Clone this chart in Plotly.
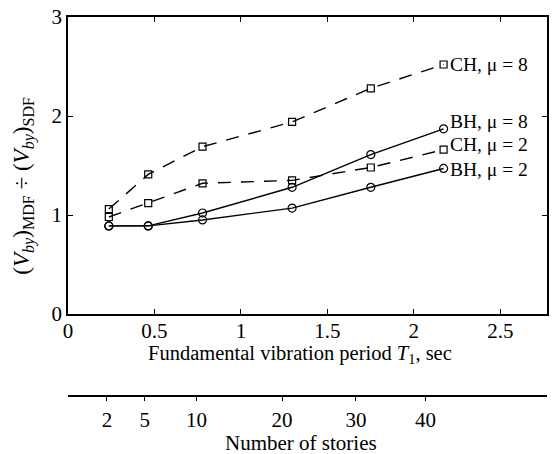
import plotly.graph_objects as go

# Fundamental periods of the frames (sec)
period = [0.236, 0.464, 0.778, 1.296, 1.751, 2.172]

# Base-shear ratio (V_by)MDF / (V_by)SDF for each frame family
ch_mu8 = [1.06, 1.41, 1.69, 1.94, 2.28, 2.52]
ch_mu2 = [0.98, 1.12, 1.32, 1.35, 1.48, 1.66]
bh_mu8 = [0.89, 0.89, 1.02, 1.28, 1.61, 1.87]
bh_mu2 = [0.89, 0.89, 0.95, 1.07, 1.28, 1.47]

series_names = ["CH, μ = 8", "BH, μ = 8", "CH, μ = 2", "BH, μ = 2"]

# Secondary scale: number of stories and where each sits on the period axis
stories = [2, 5, 10, 20, 30, 40]
story_period = [0.225, 0.444, 0.743, 1.238, 1.665, 2.068]

x_ticks = [0, 0.5, 1, 1.5, 2, 2.5]
x_ticktext = ["0", "0.5", "1", "1.5", "2", "2.5"]
y_ticks = [0, 1, 2, 3]

FONT = "Times New Roman, Liberation Serif, serif"
W, H = 553, 454
ML, MR, MT, MB = 68, 4, 17, 30
plot_w = W - ML - MR
plot_h = H - MT - MB
main_bottom = (H - MB - 314) / plot_h
story_axis_pos = (H - MB - 396) / plot_h

fig = go.Figure()

styles = [
    (ch_mu8, "dash", "square-open"),
    (bh_mu8, "solid", "circle-open"),
    (ch_mu2, "dash", "square-open"),
    (bh_mu2, "solid", "circle-open"),
]
for (vals, dash, sym), name in zip(styles, series_names):
    fig.add_trace(go.Scatter(
        x=period, y=vals, mode="lines+markers", name=name,
        line=dict(color="black", width=1.4, dash="13px,10px" if dash == "dash" else "solid"),
        marker=dict(symbol=sym, size=7 if sym.startswith("square") else 8,
                    color="black", line=dict(width=1.2, color="black")),
        showlegend=False,
    ))

# Invisible trace that carries the stories scale
fig.add_trace(go.Scatter(x=story_period, y=[None] * len(stories), xaxis="x2",
                         yaxis="y", mode="markers", showlegend=False,
                         hoverinfo="skip"))

# Series labels at the right end of each curve
label_shift = [0, 7, 5, -1]
for (vals, _, _), name, ys in zip(styles, series_names, label_shift):
    fig.add_annotation(x=period[-1], y=vals[-1], text=name, showarrow=False,
                       xanchor="left", yanchor="middle", xshift=5, yshift=ys,
                       borderpad=0,
                       font=dict(family=FONT, size=19.5, color="black"))

# Axis titles
fig.add_annotation(
    x=(301 - ML) / plot_w, y=(H - MB - 350) / plot_h,
    xref="paper", yref="paper", showarrow=False, yshift=-19,
    text="Fundamental vibration period <i>T</i><sub>1</sub>, sec",
    font=dict(family=FONT, size=20.5, color="black"))
fig.add_annotation(
    x=(302 - ML) / plot_w, y=(H - MB - 442) / plot_h,
    xref="paper", yref="paper", showarrow=False, yshift=-15,
    text="Number of stories",
    font=dict(family=FONT, size=21, color="black"))
fig.add_annotation(
    x=(20 - ML) / plot_w, y=(H - MB - 186) / plot_h,
    xref="paper", yref="paper", showarrow=False, textangle=-90, xshift=-14,
    text="(<i>V</i><sub><i>by</i></sub>)<sub>MDF</sub> ÷ (<i>V</i><sub><i>by</i></sub>)<sub>SDF</sub>",
    font=dict(family=FONT, size=23, color="black"))

x_range = [0, 2.77]
fig.update_layout(
    width=W, height=H,
    margin=dict(l=ML, r=MR, t=MT, b=MB),
    paper_bgcolor="white", plot_bgcolor="white",
    font=dict(family=FONT, size=21, color="black"),
    xaxis=dict(range=x_range, domain=[0, 1], anchor="y",
               tickvals=x_ticks, ticktext=x_ticktext,
               showline=True, linecolor="black", linewidth=1.5, mirror="ticks",
               ticks="inside", ticklen=5, tickcolor="black", tickwidth=1,
               ticklabelstandoff=-3,
               showgrid=False, zeroline=False),
    yaxis=dict(range=[0, 3], domain=[main_bottom, 1],
               tickvals=y_ticks,
               showline=True, linecolor="black", linewidth=1.5, mirror="ticks",
               ticks="inside", ticklen=5, tickcolor="black", tickwidth=1,
               showgrid=False, zeroline=False),
    xaxis2=dict(range=x_range, overlaying="x", anchor="free",
                position=story_axis_pos, side="bottom",
                tickvals=story_period, ticktext=[str(s) for s in stories],
                showline=True, linecolor="black", linewidth=1.5,
                ticks="outside", ticklen=4, tickcolor="black",
                ticklabelstandoff=1,
                showgrid=False, zeroline=False),
)

fig.write_html("out.html")
